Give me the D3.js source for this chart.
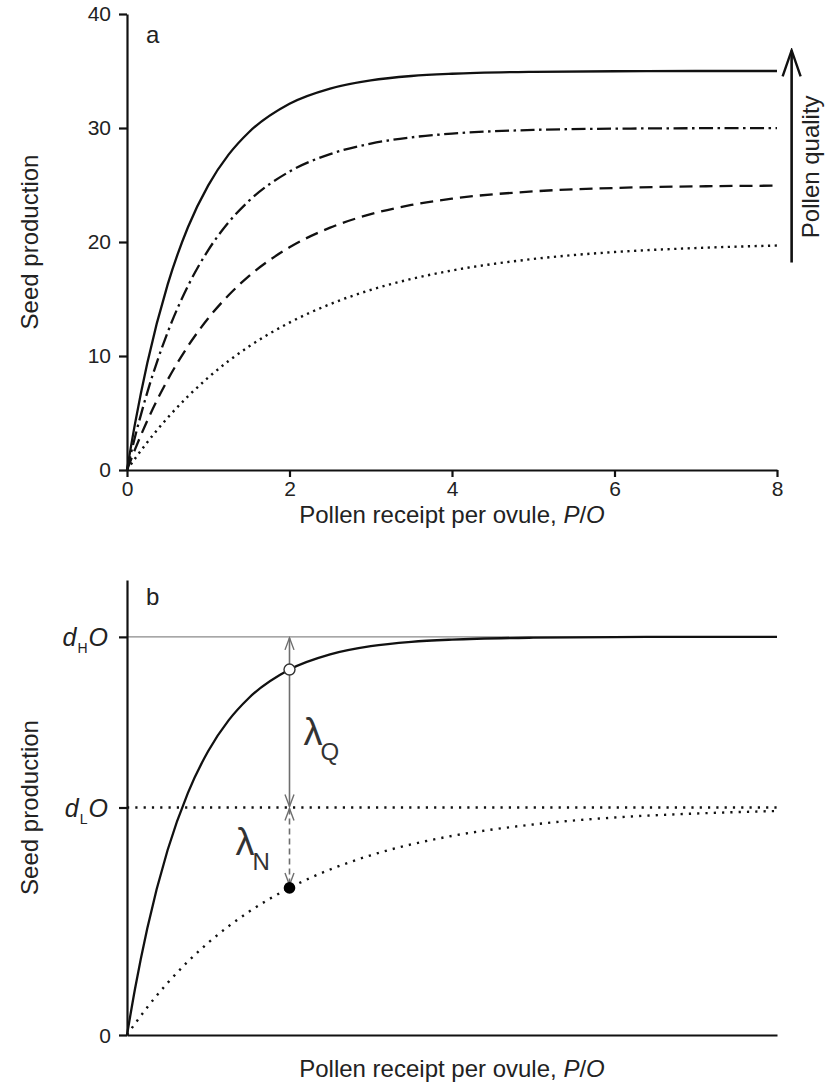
<!DOCTYPE html>
<html><head><meta charset="utf-8">
<script src="https://cdn.jsdelivr.net/npm/d3@7"></script>
<style>
html,body{margin:0;padding:0;background:#fff;}
svg{display:block;font-family:"Liberation Sans",Arial,Helvetica,sans-serif;}
</style></head>
<body>
<svg id="chart" width="829" height="1084"></svg>
<script>
// ---- data ----
const pollenPerOvule = [0,0.1,0.25,0.5,0.75,1,1.25,1.5,2,2.5,3,3.5,4,5,6,7,8];
const seedHighQuality = [0,4.11,9.39,16.26,21.29,24.97,27.66,29.63,32.13,33.46,34.18,34.56,34.76,34.93,34.98,35.0,35.0];
const seedQuality2   = [0,2.94,6.81,12.07,16.14,19.29,21.72,23.60,26.18,27.71,28.63,29.18,29.51,29.83,29.94,29.98,29.99];
const seedQuality3   = [0,1.83,4.33,7.90,10.86,13.31,15.33,17.01,19.53,21.26,22.44,23.25,23.80,24.44,24.74,24.88,24.94];
const seedLowQuality = [0,1.01,2.44,4.58,6.46,8.11,9.56,10.83,12.93,14.55,15.80,16.76,17.50,18.51,19.12,19.47,19.69];
const xTickValues = [0,2,4,6,8];
const yTickValues = [0,10,20,30,40];
const xDomain = [0,8];
const yDomain = [0,40];
const dH = 35, dL = 20;                 // asymptotes shown in panel b
const examplePO = 2;                    // P/O where lambda is illustrated
const exampleHigh = 32.13, exampleLow = 12.93;
const qualityArrow = {x: 8.18, from: 18.2, to: 36.8, center: 26.6};

// ---- layout ----
const svg = d3.select("#chart");
const x = d3.scaleLinear().domain(xDomain).range([127,777]);
const yA = d3.scaleLinear().domain(yDomain).range([470,14]);
const yB = d3.scaleLinear().domain(yDomain).range([1035,580]);
const black = "#111", grey = "#6e6e6e", txt = "#222";

const defs = svg.append("defs");
function vMarker(id, color, len, half, sw){
  defs.append("marker").attr("id",id).attr("viewBox",`${-len-2} ${-half-2} ${len+4} ${2*half+4}`)
    .attr("refX",0).attr("refY",0).attr("markerUnits","userSpaceOnUse")
    .attr("markerWidth",len+4).attr("markerHeight",2*half+4).attr("orient","auto-start-reverse")
    .append("path").attr("d",`M${-len},${-half}L0,0L${-len},${half}`)
    .attr("fill","none").attr("stroke",color).attr("stroke-width",sw);
}
vMarker("greyHead", grey, 12, 4.5, 1.4);
vMarker("blackHead", black, 26, 9, 2.4);

const lineGen = (y) => d3.line().x((d,i)=>x(pollenPerOvule[i])).y(d=>y(d)).curve(d3.curveMonotoneX);

// ================= Panel a =================
const gA = svg.append("g");
const axA_x = gA.append("g").attr("transform",`translate(0,${yA(0)})`)
  .call(d3.axisBottom(x).tickValues(xTickValues).tickSize(7).tickSizeOuter(0).tickPadding(4).tickFormat(d3.format("d")));
const axA_y = gA.append("g").attr("transform",`translate(${x(0)},0)`)
  .call(d3.axisLeft(yA).tickValues(yTickValues).tickSize(8).tickSizeOuter(0).tickPadding(8));
[axA_x, axA_y].forEach(a=>{
  a.select(".domain").attr("stroke",black).attr("stroke-width",2.2);
  a.selectAll(".tick line").attr("stroke",black).attr("stroke-width",2.2);
  a.selectAll("text").attr("font-size",21).attr("fill",txt).attr("font-family","Liberation Sans, Arial, sans-serif");
});

const series = [
  {v: seedLowQuality, dash: "2.2,4.5", w: 2.4},
  {v: seedQuality3,  dash: "13,7", w: 2.3},
  {v: seedQuality2,  dash: "14,4.5,2.5,4.5", w: 2.3},
  {v: seedHighQuality, dash: null, w: 2.3}
];
series.forEach(s=>{
  gA.append("path").attr("d", lineGen(yA)(s.v)).attr("fill","none")
    .attr("stroke",black).attr("stroke-width",s.w)
    .attr("stroke-dasharray", s.dash);
});

gA.append("text").attr("x",146).attr("y",43).attr("font-size",24).attr("fill",txt).text("a");
gA.append("text").attr("transform",`translate(38,${(yA(0)+yA(40))/2}) rotate(-90)`)
  .attr("text-anchor","middle").attr("font-size",24).attr("fill",txt).text("Seed production");
const tA = gA.append("text").attr("x",(x(0)+x(8))/2).attr("y",yA(0)+53)
  .attr("text-anchor","middle").attr("font-size",24).attr("fill",txt);
tA.append("tspan").text("Pollen receipt per ovule, ");
tA.append("tspan").attr("font-style","italic").text("P");
tA.append("tspan").text("/");
tA.append("tspan").attr("font-style","italic").text("O");

// Pollen quality arrow
gA.append("line").attr("x1",x(qualityArrow.x)).attr("x2",x(qualityArrow.x))
  .attr("y1",yA(qualityArrow.from)).attr("y2",yA(qualityArrow.to))
  .attr("stroke",black).attr("stroke-width",2.6).attr("marker-end","url(#blackHead)");
gA.append("text").attr("transform",`translate(${x(qualityArrow.x)+27},${yA(qualityArrow.center)}) rotate(-90)`)
  .attr("text-anchor","middle").attr("font-size",24).attr("fill",txt).text("Pollen quality");

// ================= Panel b =================
const gB = svg.append("g");
// reference lines
gB.append("line").attr("x1",x(0)).attr("x2",x(8)).attr("y1",yB(dH)).attr("y2",yB(dH))
  .attr("stroke","#8a8a8a").attr("stroke-width",1.3);
gB.append("line").attr("x1",x(0)).attr("x2",x(8)).attr("y1",yB(dL)).attr("y2",yB(dL))
  .attr("stroke",black).attr("stroke-width",2.4).attr("stroke-dasharray","2.2,6.1");

// curves
gB.append("path").attr("d", lineGen(yB)(seedLowQuality)).attr("fill","none")
  .attr("stroke",black).attr("stroke-width",2.4).attr("stroke-dasharray","2.2,6.1");
gB.append("path").attr("d", lineGen(yB)(seedHighQuality)).attr("fill","none")
  .attr("stroke",black).attr("stroke-width",2.3);

// axes
const axB_y = gB.append("g").attr("transform",`translate(${x(0)},0)`)
  .call(d3.axisLeft(yB).tickValues([0,dL,dH]).tickSize(8).tickSizeOuter(0).tickFormat(""));
const axB_x = gB.append("g").attr("transform",`translate(0,${yB(0)})`)
  .call(d3.axisBottom(x).tickValues([]).tickSizeOuter(0));
[axB_x, axB_y].forEach(a=>{
  a.select(".domain").attr("stroke",black).attr("stroke-width",2.2);
  a.selectAll(".tick line").attr("stroke",black).attr("stroke-width",2.2);
});
gB.append("text").attr("x",x(0)-16).attr("y",yB(0)+8).attr("text-anchor","end")
  .attr("font-size",21).attr("fill",txt).text("0");
function dLabel(val, sub){
  const t = gB.append("text").attr("x",x(0)-19).attr("y",yB(val)+9).attr("text-anchor","end")
    .attr("font-size",25).attr("fill",txt);
  t.append("tspan").attr("font-style","italic").text("d");
  t.append("tspan").attr("font-size",14).attr("dy",7).attr("dx",1).text(sub);
  t.append("tspan").attr("font-style","italic").attr("dy",-7).attr("dx",1).text("O");
}
dLabel(dH,"H");
dLabel(dL,"L");

gB.append("text").attr("x",146).attr("y",605).attr("font-size",24).attr("fill",txt).text("b");
gB.append("text").attr("transform",`translate(38,${(yB(0)+yB(40))/2}) rotate(-90)`)
  .attr("text-anchor","middle").attr("font-size",24).attr("fill",txt).text("Seed production");
const tB = gB.append("text").attr("x",(x(0)+x(8))/2).attr("y",yB(0)+42)
  .attr("text-anchor","middle").attr("font-size",24).attr("fill",txt);
tB.append("tspan").text("Pollen receipt per ovule, ");
tB.append("tspan").attr("font-style","italic").text("P");
tB.append("tspan").text("/");
tB.append("tspan").attr("font-style","italic").text("O");

// lambda arrows
const ax = x(examplePO);
gB.append("line").attr("x1",ax).attr("x2",ax).attr("y1",yB(dH)+1).attr("y2",yB(dL)-1)
  .attr("stroke",grey).attr("stroke-width",1.6)
  .attr("marker-start","url(#greyHead)").attr("marker-end","url(#greyHead)");
gB.append("line").attr("x1",ax).attr("x2",ax).attr("y1",yB(dL)+1).attr("y2",yB(exampleLow)-3)
  .attr("stroke",grey).attr("stroke-width",1.6).attr("stroke-dasharray","6,4")
  .attr("marker-start","url(#greyHead)").attr("marker-end","url(#greyHead)");
gB.append("circle").attr("cx",ax).attr("cy",yB(exampleHigh)).attr("r",5.5)
  .attr("fill","#fff").attr("stroke","#333").attr("stroke-width",1.4);
gB.append("circle").attr("cx",ax).attr("cy",yB(exampleLow)).attr("r",5.8).attr("fill","#000");

function lambda(px, py, sub){
  gB.append("text").attr("x",px).attr("y",py).attr("font-size",38).attr("fill","#333").text("λ");
  gB.append("text").attr("x",px+17).attr("y",py+15).attr("font-size",24).attr("fill","#333").text(sub);
}
lambda(ax+14, (yB(dH)+yB(dL))/2+23, "Q");
lambda(ax-54, (yB(dL)+yB(exampleLow))/2+7, "N");
</script>
</body></html>
